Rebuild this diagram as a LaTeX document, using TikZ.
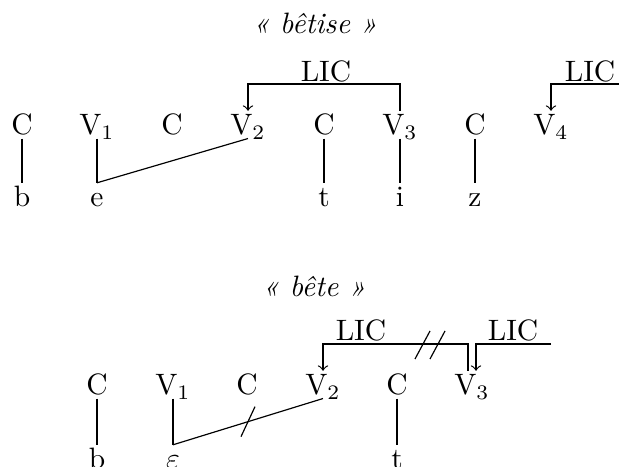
\documentclass[tikz,border=0pt]{standalone}
\usepackage{fontspec}
\usetikzlibrary{calc}
\begin{document}
\begin{tikzpicture}[x=0.339pt,y=-0.339pt,
  seg/.style={inner sep=1pt,text height=7pt,text depth=0pt,anchor=base},
  lic/.style={inner sep=0pt,anchor=base},
  ttl/.style={inner sep=0pt,anchor=base,font=\itshape},
  >=to]
\useasboundingbox (0,0) rectangle (619,467);

% ---------- top: bêtise ----------
\node[ttl] (tT) at (315,34) {«~bêtise~»};

\node[seg] (tC1) at (22,135) {C};
\node[seg] (tV1) at (97,135) {V$_1$};
\node[seg] (tC2) at (172,135) {C};
\node[seg] (tV2) at (248,135) {V$_2$};
\node[seg] (tC3) at (324,135) {C};
\node[seg] (tV3) at (400,135) {V$_3$};
\node[seg] (tC4) at (475,135) {C};
\node[seg] (tV4) at (551,135) {V$_4$};

\node[seg] (tb) at (22,207) {b};
\node[seg] (te) at (97,207) {e};
\node[seg] (tt) at (324,207) {t};
\node[seg] (ti) at (400,207) {i};
\node[seg] (tz) at (475,207) {z};

\draw (tC1.south) -- (tb.north);
\draw (tV1.south) -- (te.north);
\draw (te.north) -- (tV2.south);
\draw (tC3.south) -- (tt.north);
\draw (tV3.south) -- (ti.north);
\draw (tC4.south) -- (tz.north);

\node[lic] (tL1) at (326,82) {LIC};
\node[lic] (tL2) at (590,82) {LIC};
\coordinate (th1) at (324,84);
\draw[->] (tV3.north) |- (th1) -| (tV2.north);
\coordinate (th2) at (625,84);
\draw[->] (th2) -| (tV4.north);

% ---------- bottom: bête ----------
\node[ttl] (bT) at (314,297) {«~bête~»};

\node[seg] (bC1) at (97,395) {C};
\node[seg] (bV1) at (173,395) {V$_1$};
\node[seg] (bC2) at (247,395) {C};
\node[seg] (bV2) at (323,395) {V$_2$};
\node[seg] (bC3) at (397,395) {C};
\node[seg] (bV3) at (472,395) {V$_3$};

\node[seg] (bb) at (97,469) {b};
\node[seg] (beps) at (173,469) {$\varepsilon$};
\node[seg] (bt) at (397,469) {t};

\draw (bC1.south) -- (bb.north);
\draw (bV1.south) -- (beps.north);
\draw (beps.north) -- (bV2.south);
\draw ($(beps.north)!0.5!(bV2.south)+(-7,15)$) -- ++(14,-30);
\draw (bC3.south) -- (bt.north);

\node[lic] (bL1) at (361,341) {LIC};
\node[lic] (bL2) at (513,341) {LIC};
\coordinate (bh1) at (400,344);
\draw[->] ($(bV3.north)+(-4,0)$) |- (bh1) -| (bV2.north);
\coordinate (bh2) at (551,344);
\draw[->] (bh2) -| ($(bV3.north)+(4,0)$);
\draw (415,359) -- (430,331);
\draw (430,359) -- (445,331);
\end{tikzpicture}
\end{document}
